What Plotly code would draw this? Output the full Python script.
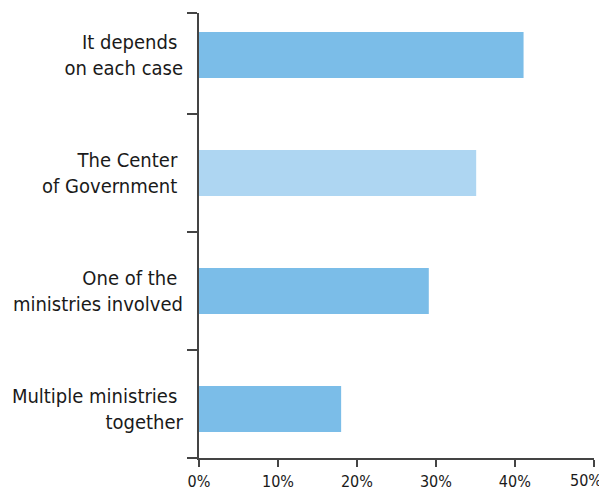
import plotly.graph_objects as go

categories = ["Multiple ministries\u00a0<br>together",
              "One of the\u00a0<br>ministries involved",
              "The Center\u00a0<br>of Government\u00a0",
              "It depends\u00a0<br>on each case"]
values = [18.0, 29.1, 35.1, 41.1]
bar_colors = ["#7bbde8", "#7bbde8", "#aed6f2", "#7bbde8"]
x_tick_vals = [0, 10, 20, 30, 40, 50]
x_tick_text = ["0%", "10%", "20%", "30%", "40%", "50%"]

positions = list(range(len(categories)))
y_range = [-0.415, 3.356]
boundaries = [-0.414, 0.5, 1.5, 2.5, 3.355]

FONT = "DejaVu Sans Condensed, Liberation Sans Narrow, sans-serif"
AX = "#444444"
TXT = "#1a1a1a"

fig = go.Figure()
fig.add_trace(go.Bar(
    x=values, y=positions, orientation="h", width=0.39,
    marker=dict(color=bar_colors, line=dict(width=0)),
    yaxis="y2", hoverinfo="x",
))
# invisible helper trace so the boundary-tick axis is drawn
fig.add_trace(go.Scatter(x=[None], y=[None], yaxis="y", mode="markers",
                         hoverinfo="skip", showlegend=False))

# last tick label is pulled inward so it stays inside the page
shown_text = x_tick_text[:-1] + [""]
fig.add_annotation(x=x_tick_vals[-1], xref="x", y=0, yref="paper",
                   text=x_tick_text[-1], showarrow=False,
                   xanchor="right", yanchor="top", xshift=9, yshift=-12,
                   borderpad=0,
                   font=dict(size=16, family=FONT, color=TXT))

# the page body adds an 8px offset, so the figure is sized to the remaining view
fig.update_layout(
    width=599, height=482,
    margin=dict(l=191, r=13, t=5, b=32),
    paper_bgcolor="white", plot_bgcolor="white",
    showlegend=False,
    font=dict(family=FONT, color=TXT),
    xaxis=dict(range=[0, 50.02], tickvals=x_tick_vals, ticktext=shown_text,
               showgrid=False, zeroline=False, showline=True, linecolor=AX,
               linewidth=1.5, ticks="outside", ticklen=7, tickwidth=1.5,
               tickcolor=AX, ticklabelstandoff=1, automargin=False,
               ticklabeloverflow="allow",
               tickfont=dict(size=16, family=FONT, color=TXT),
               fixedrange=True),
    yaxis=dict(range=y_range, tickvals=boundaries, ticktext=[""] * len(boundaries),
               showgrid=False, zeroline=False, showline=True, linecolor=AX,
               linewidth=1.5, ticks="outside", ticklen=10, tickwidth=1.5,
               tickcolor=AX, automargin=False, fixedrange=True),
    yaxis2=dict(range=y_range, overlaying="y", side="left", anchor="x",
                tickvals=positions, ticktext=categories,
                showgrid=False, zeroline=False, showline=False, ticks="",
                ticklabelstandoff=15, automargin=False,
                tickfont=dict(size=20, family=FONT, color=TXT),
                fixedrange=True),
)

fig.write_html("out.html")
